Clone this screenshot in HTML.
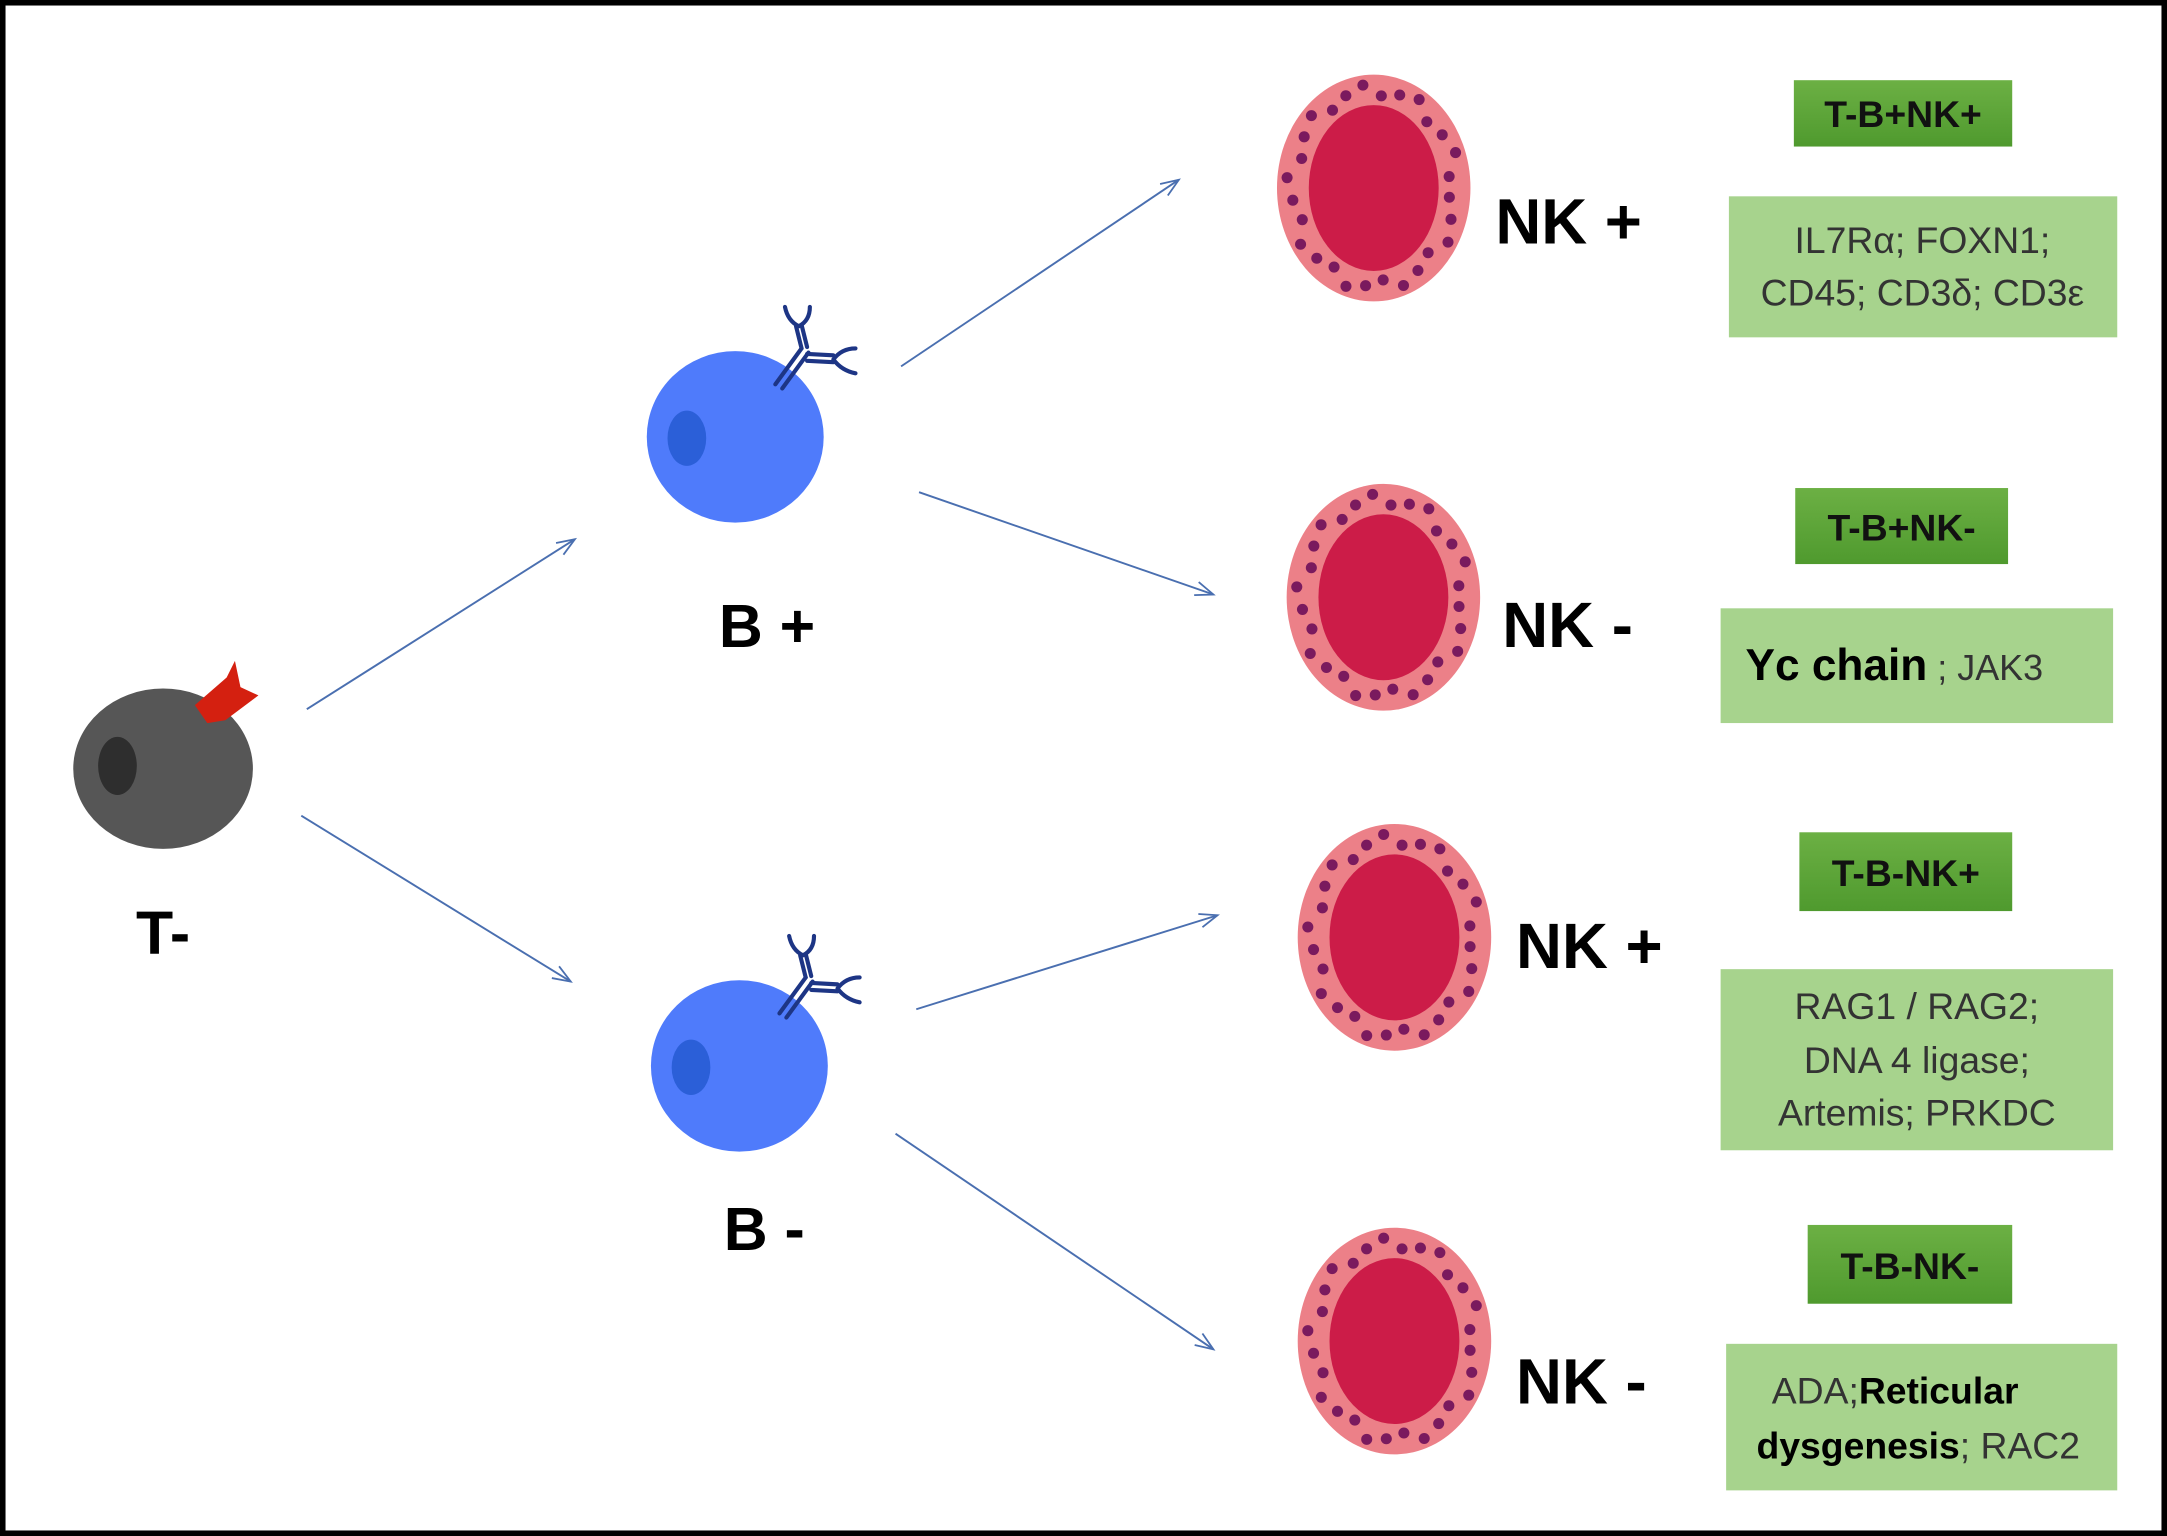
<!DOCTYPE html>
<html><head><meta charset="utf-8"><style>
html,body{margin:0;padding:0;background:#fff}
svg{display:block}
text{font-family:"Liberation Sans",sans-serif}
</style></head><body>
<svg id="s" width="2167" height="1536" viewBox="0 0 1568 1111" preserveAspectRatio="none" xmlns="http://www.w3.org/2000/svg">
<defs>
<marker id="a" markerWidth="16" markerHeight="12" refX="14" refY="6" orient="auto" markerUnits="userSpaceOnUse">
<path d="M1,1 L14,6 L1,11" fill="none" stroke="#4a6fb0" stroke-width="1.3"/>
</marker>
<linearGradient id="dg" x1="0" y1="0" x2="0" y2="1"><stop offset="0" stop-color="#6cb044"/><stop offset="1" stop-color="#4f9a2e"/></linearGradient>
</defs>
<rect x="2" y="2" width="1564" height="1107" fill="#fff" stroke="#000" stroke-width="4"/>
<g stroke="#4a6fb0" stroke-width="1.4" marker-end="url(#a)">
<line x1="222" y1="513" x2="416" y2="390"/>
<line x1="218" y1="590" x2="413" y2="710"/>
<line x1="652" y1="265" x2="853" y2="130"/>
<line x1="665" y1="356" x2="878" y2="430"/>
<line x1="663" y1="730" x2="881" y2="662"/>
<line x1="648" y1="820" x2="878" y2="976"/>
</g>
<!-- T cell -->
<ellipse cx="118" cy="556" rx="65" ry="58" fill="#565656"/>
<ellipse cx="85" cy="554" rx="14" ry="21" fill="#2e2e2e"/>
<path d="M141,510 L164,490 L170,478 L174,497 L187,503 L163,521 L150,523 Z" fill="#d42010"/>
<text x="118" y="690" font-size="44" font-weight="bold" text-anchor="middle">T-</text>
<!-- B cells -->
<g id="b1">
<ellipse cx="532" cy="316" rx="64" ry="62" fill="#4f7bfb"/>
<ellipse cx="497" cy="317" rx="14" ry="20" fill="#2b5fd8"/>
<g stroke="#1d3585" stroke-width="3" fill="none" stroke-linecap="round">
<path d="M561,278 L580,252 M566,281 L585,255"/>
<path d="M580,252 L576,236 M584,251 L580,235"/>
<path d="M578,236 Q570,232 568,222 M578,236 Q586,232 586,222"/>
<path d="M584,256 L603,257 M584,261 L603,262"/>
<path d="M603,260 Q609,252 619,252 M603,260 Q609,268 619,270"/>
</g>
</g>
<use href="#b1" transform="translate(3,455)"/>
<text x="555" y="468" font-size="44" font-weight="bold" text-anchor="middle">B +</text>
<text x="553" y="904" font-size="44" font-weight="bold" text-anchor="middle">B -</text>
<g id="nk"></g>
<g font-size="46" font-weight="bold">
<text x="1082" y="176">NK +</text>
<text x="1087" y="468">NK -</text>
<text x="1097" y="700">NK +</text>
<text x="1097" y="1015">NK -</text>
</g>
<g fill="url(#dg)">
<rect x="1298" y="58" width="158" height="48"/>
<rect x="1299" y="353" width="154" height="55"/>
<rect x="1302" y="602" width="154" height="57"/>
<rect x="1308" y="886" width="148" height="57"/>
</g>
<g font-size="27" font-weight="bold" text-anchor="middle" fill="#111">
<text x="1377" y="92">T-B+NK+</text>
<text x="1376" y="391">T-B+NK-</text>
<text x="1379" y="641">T-B-NK+</text>
<text x="1382" y="925">T-B-NK-</text>
</g>
<g fill="#a7d38d">
<rect x="1251" y="142" width="281" height="102"/>
<rect x="1245" y="440" width="284" height="83"/>
<rect x="1245" y="701" width="284" height="131"/>
<rect x="1249" y="972" width="283" height="106"/>
</g>
<g font-size="27" fill="#333" text-anchor="middle">
<text x="1391" y="183">IL7Rα; FOXN1;</text>
<text x="1391" y="221">CD45; CD3δ; CD3ε</text>
<text x="1387" y="737">RAG1 / RAG2;</text>
<text x="1387" y="776">DNA 4 ligase;</text>
<text x="1387" y="814">Artemis; PRKDC</text>
</g>
<text x="1263" y="492" font-size="32" font-weight="bold" fill="#000">Yc chain<tspan font-size="26" font-weight="normal" fill="#333"> ; JAK3</tspan></text>
<text x="1282" y="1015" font-size="27" fill="#333">ADA;<tspan font-weight="bold" fill="#000">Reticular</tspan></text>
<text x="1271" y="1055" font-size="27" font-weight="bold" fill="#000">dysgenesis<tspan font-weight="normal" fill="#333">; RAC2</tspan></text>
</svg>
<script>
var g=document.getElementById('nk'),ns='http://www.w3.org/2000/svg';
var cells=[[994,136],[1001,432],[1009,678],[1009,970]];
function el(t,a){var e=document.createElementNS(ns,t);for(var k in a)e.setAttribute(k,a[k]);g.appendChild(e);}
cells.forEach(function(c){
el('ellipse',{cx:c[0],cy:c[1],rx:70,ry:82,fill:'#ec8088'});
el('ellipse',{cx:c[0],cy:c[1],rx:47,ry:60,fill:'#cc1c48'});
for(var i=0;i<28;i++){var t=i/28*2*Math.PI+0.1;var j=(i%3-1)*4;
el('circle',{cx:c[0]+(59+j)*Math.cos(t),cy:c[1]+(71+j)*Math.sin(t),r:4,fill:'#7a1a5e'});}
});
</script>
</body></html>
